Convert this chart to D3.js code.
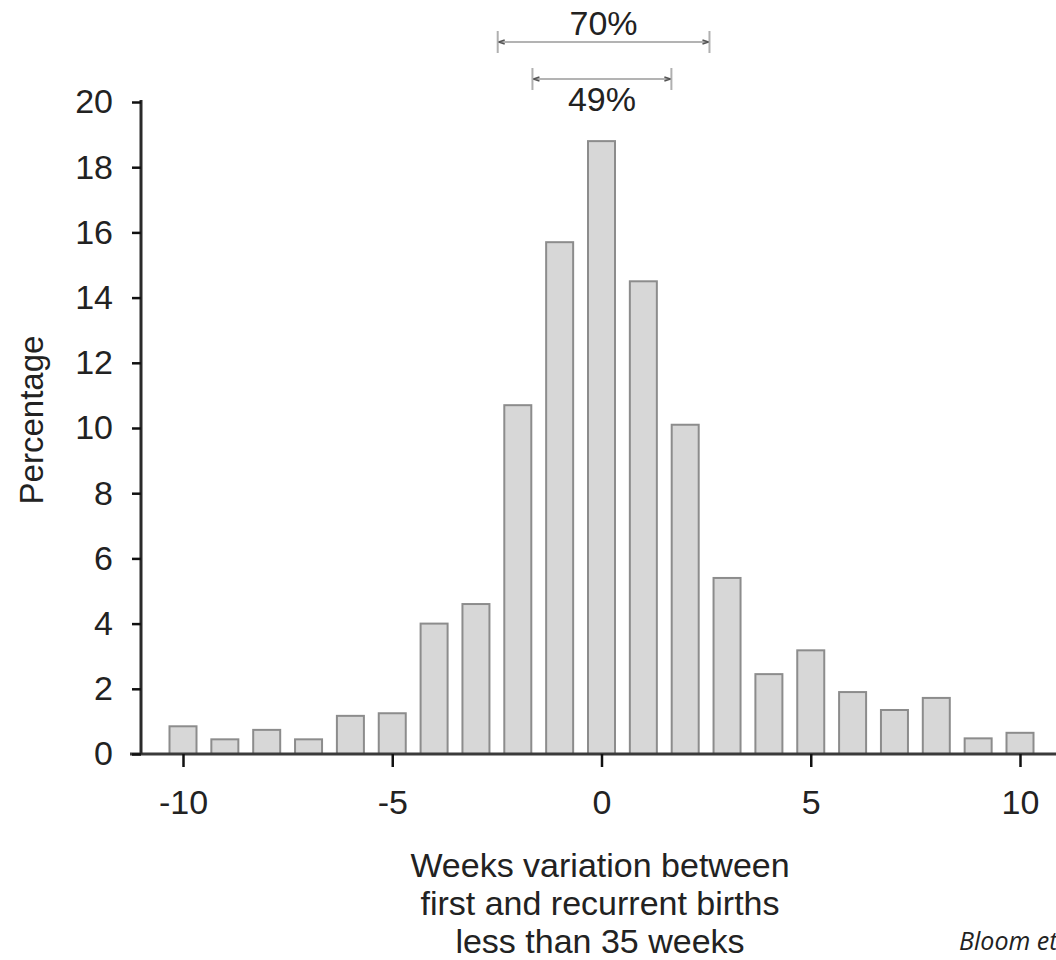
<!DOCTYPE html>
<html>
<head>
<meta charset="utf-8">
<script src="https://cdn.jsdelivr.net/npm/d3@7"></script>
<style>
  body { margin: 0; background: #fff; }
  svg { display: block; }
  text { font-family: "Liberation Sans", Arial, sans-serif; fill: #222; }
</style>
</head>
<body>
<svg width="1056" height="960"></svg>
<script>
// weeks difference (x) and percentage of women (y)
const weeks = [-10, -9, -8, -7, -6, -5, -4, -3, -2, -1, 0, 1, 2, 3, 4, 5, 6, 7, 8, 9, 10];
const percentages = [0.85, 0.45, 0.74, 0.45, 1.17, 1.25, 4.0, 4.6, 10.7, 15.7, 18.8,
                     14.5, 10.1, 5.4, 2.45, 3.18, 1.9, 1.35, 1.72, 0.48, 0.65];
const yTicks = [0, 2, 4, 6, 8, 10, 12, 14, 16, 18, 20];
const xTicks = [-10, -5, 0, 5, 10];

// brackets above the plot (in weeks)
const spanLabels = ["70%", "49%"];
const spanFrom = [-2.48, -1.65];
const spanTo = [2.58, 1.67];

const titleLines = ["Weeks variation between", "first and recurrent births", "less than 35 weeks"];

const data = weeks.map((w, i) => ({ week: w, pct: percentages[i] }));

const svg = d3.select("svg");

const x = d3.scaleLinear().domain([-10, 10]).range([183, 1020]);
const y = d3.scaleLinear().domain([0, 20]).range([754, 102]);

const barW = 27;

// Bars
svg.append("g")
  .selectAll("rect")
  .data(data)
  .enter()
  .append("rect")
  .attr("x", d => x(d.week) - barW / 2)
  .attr("y", d => y(d.pct))
  .attr("width", barW)
  .attr("height", d => y(0) - y(d.pct))
  .attr("fill", "#d7d7d7")
  .attr("stroke", "#8c8c8c")
  .attr("stroke-width", 2);

// Axis lines
svg.append("line")
  .attr("x1", 130).attr("x2", 1056)
  .attr("y1", y(0)).attr("y2", y(0))
  .attr("stroke", "#3a3a3a").attr("stroke-width", 3);

svg.append("line")
  .attr("x1", 141).attr("x2", 141)
  .attr("y1", y(20) - 2).attr("y2", y(0))
  .attr("stroke", "#2a2a2a").attr("stroke-width", 3);

// Y axis
const yAxis = svg.append("g")
  .attr("transform", "translate(141,0)")
  .call(d3.axisLeft(y).tickValues(yTicks).tickSize(9).tickPadding(19));
yAxis.select(".domain").remove();
yAxis.selectAll(".tick line").attr("stroke", "#111").attr("stroke-width", 2.5);
yAxis.selectAll(".tick text").style("font-size", "34px").attr("fill", "#222");

// X axis (plain hyphen for negatives, as in the original)
const xAxis = svg.append("g")
  .attr("transform", `translate(0,${y(0)})`)
  .call(d3.axisBottom(x).tickValues(xTicks).tickFormat(d => String(d))
    .tickSize(13).tickPadding(23));
xAxis.select(".domain").remove();
xAxis.selectAll(".tick line").attr("stroke", "#111").attr("stroke-width", 2.5);
xAxis.selectAll(".tick text").style("font-size", "34px").attr("fill", "#222");

// Y label
svg.append("text")
  .attr("transform", "rotate(-90)")
  .attr("x", -420)
  .attr("y", 43)
  .attr("text-anchor", "middle")
  .style("font-size", "33px")
  .text("Percentage");

// X title
svg.append("g")
  .selectAll("text")
  .data(titleLines)
  .enter()
  .append("text")
  .attr("x", 600)
  .attr("y", (d, i) => 877 + i * 38)
  .attr("text-anchor", "middle")
  .style("font-size", "34px")
  .text(d => d);

// Brackets
const spanY = [42, 79];
const labelY = [35, 111];
spanLabels.forEach((lab, i) => {
  const g = svg.append("g");
  const x1 = x(spanFrom[i]), x2 = x(spanTo[i]), yy = spanY[i];
  g.append("line")
    .attr("x1", x1).attr("x2", x2).attr("y1", yy).attr("y2", yy)
    .attr("stroke", "#9a9a9a").attr("stroke-width", 1.5);
  [x1, x2].forEach(xx => {
    g.append("line")
      .attr("x1", xx).attr("x2", xx).attr("y1", yy - 11).attr("y2", yy + 11)
      .attr("stroke", "#b0b0b0").attr("stroke-width", 2);
  });
  // tiny arrow heads
  g.append("path")
    .attr("d", `M${x1 + 1},${yy} l6,-2 M${x1 + 1},${yy} l6,2 M${x2 - 1},${yy} l-6,-2 M${x2 - 1},${yy} l-6,2`)
    .attr("stroke", "#555").attr("stroke-width", 1.5).attr("fill", "none");
  svg.append("text")
    .attr("x", (x1 + x2) / 2)
    .attr("y", labelY[i])
    .attr("text-anchor", "middle")
    .style("font-size", "34px")
    .text(lab);
});

// Source note (cut off at the edge as in the original)
svg.append("text")
  .attr("x", 959)
  .attr("y", 950)
  .style("font-family", "'Open Sans', 'Noto Sans', sans-serif")
  .style("font-style", "italic")
  .style("font-size", "25px")
  .attr("fill", "#000")
  .text("Bloom et al.");
</script>
</body>
</html>
